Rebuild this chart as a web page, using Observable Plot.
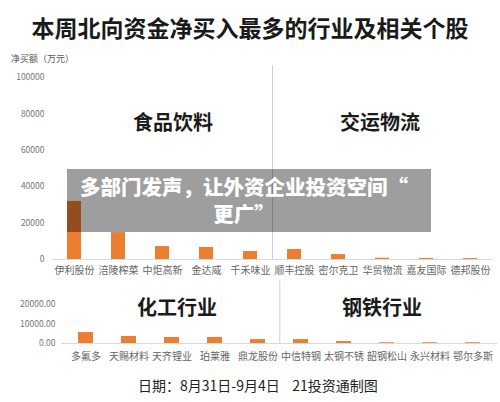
<!DOCTYPE html>
<html>
<head>
<meta charset="utf-8">
<script src="https://cdn.jsdelivr.net/npm/d3@7"></script>
<script src="https://cdn.jsdelivr.net/npm/@observablehq/plot@0.6"></script>
<style>
  html, body { margin: 0; padding: 0; background: #fff; }
  #root { position: relative; width: 500px; height: 402px; overflow: hidden; background: #fff;
          font-family: "Noto Sans CJK SC", "Noto Sans", sans-serif; }
  .abs { position: absolute; white-space: nowrap; }
  #title { left: 0; width: 500px; top: 10px; text-align: center; font-size: 23px; font-weight: 700; color: #1a1a1a; }
  #unit { left: 11px; top: 52px; font-size: 9px; color: #555; }
  .sub { font-size: 20px; font-weight: 700; color: #1a1a1a; transform: translate(-50%, -50%); }
  #footer { left: 138px; top: 375px; font-size: 14px; color: #222; }
  #banner { left: 67px; top: 169px; width: 364px; height: 63px; background: rgba(0,0,0,0.38);
            color: #fff; font-weight: 900; font-size: 20.5px; line-height: 27px; text-align: center;
            box-sizing: border-box; padding: 4px 10px 0 0; white-space: nowrap; }
  svg { position: absolute; left: 0; }
</style>
</head>
<body>
<div id="root"></div>
<script>
const titleText = "本周北向资金净买入最多的行业及相关个股";
const unitText = "净买额（万元）";
const topCategories = ["伊利股份","涪陵榨菜","中炬高新","金达威","千禾味业","顺丰控股","密尔克卫","华贸物流","嘉友国际","德邦股份"];
const topValues = [31900, 14800, 7100, 6600, 4400, 5500, 2700, 700, 600, 500];
const topTicks = [0, 20000, 40000, 60000, 80000, 100000];
const bottomCategories = ["多氟多","天赐材料","天齐锂业","珀莱雅","鼎龙股份","中信特钢","太钢不锈","韶钢松山","永兴材料","鄂尔多斯"];
const bottomValues = [5600, 3600, 3100, 3100, 2000, 2000, 1000, 400, 400, 400];
const bottomTicks = [0, 10000, 20000];
const sectorLabels = ["食品饮料", "交运物流", "化工行业", "钢铁行业"];
const footerText = "日期：8月31日-9月4日\u00a0\u00a0\u00a0\u00a021投资通制图";
const bannerLines = ["多部门发声，让外资企业投资空间“", "更广”"];

const barColor = "#ED7D31";
const font = "'Noto Sans CJK SC', 'Noto Sans', sans-serif";

const root = document.getElementById("root");
function addDiv(id, cls, text, left, top) {
  const d = document.createElement("div");
  if (id) d.id = id;
  d.className = "abs " + (cls || "");
  d.textContent = text;
  if (left != null) d.style.left = left + "px";
  if (top != null) d.style.top = top + "px";
  root.appendChild(d);
  return d;
}

addDiv("title", "", titleText);
addDiv("unit", "", unitText);

const topData = topCategories.map((c, i) => ({cat: c, value: topValues[i]}));
const bottomData = bottomCategories.map((c, i) => ({cat: c, value: bottomValues[i]}));

// Top chart
const topPlot = Plot.plot({
  width: 500, height: 220,
  marginTop: 17, marginBottom: 21, marginLeft: 52, marginRight: 7,
  style: {fontFamily: font, background: "transparent", overflow: "visible"},
  x: {domain: topCategories, paddingInner: 0.68, paddingOuter: 0.34, label: null},
  y: {domain: [0, 100000], label: null, ticks: topTicks},
  marks: [
    Plot.axisY({ticks: topTicks, tickSize: 0, tickPadding: 8, fontSize: 8.5, fill: "#777", tickFormat: d => String(d), label: null}),
    Plot.axisX({tickSize: 0, tickPadding: 7, fontSize: 10, fill: "#666", label: null}),
    Plot.barY(topData, {x: "cat", y: "value", fill: barColor}),
    Plot.ruleY([0], {stroke: "#d9d9d9", strokeWidth: 1}),
    Plot.ruleX(["千禾味业"], {y1: 0, y2: 106500, dx: 22, stroke: "#d0d0d0", strokeWidth: 1, clip: false})
  ]
});
topPlot.style.top = "60px";
root.appendChild(topPlot);

// Bottom chart
const bottomPlot = Plot.plot({
  width: 500, height: 100,
  marginTop: 24, marginBottom: 37, marginLeft: 61, marginRight: 3,
  style: {fontFamily: font, background: "transparent", overflow: "visible"},
  x: {domain: bottomCategories, paddingInner: 0.66, paddingOuter: 0.33, label: null},
  y: {domain: [0, 20000], label: null},
  marks: [
    Plot.axisY({ticks: bottomTicks, tickSize: 0, tickPadding: 6, fontSize: 8.5, fill: "#777", tickFormat: d => d.toFixed(2), label: null}),
    Plot.axisX({tickSize: 0, tickPadding: 9, fontSize: 10, fill: "#666", label: null}),
    Plot.barY(bottomData, {x: "cat", y: "value", fill: barColor}),
    Plot.ruleY([0], {stroke: "#d9d9d9", strokeWidth: 1}),
    Plot.ruleX(["鼎龙股份"], {y1: 0, y2: 32000, dx: 21.8, stroke: "#d0d0d0", strokeWidth: 1, clip: false})
  ]
});
bottomPlot.style.top = "280px";
root.appendChild(bottomPlot);

// Sector labels
addDiv(null, "sub", sectorLabels[0], 173, 121);
addDiv(null, "sub", sectorLabels[1], 380, 121);
addDiv(null, "sub", sectorLabels[2], 177, 306);
addDiv(null, "sub", sectorLabels[3], 382, 306);

addDiv("footer", "", footerText);
const banner = addDiv("banner", "", "");
bannerLines.forEach((line, i) => {
  if (i > 0) banner.appendChild(document.createElement("br"));
  banner.appendChild(document.createTextNode(line));
});
</script>
</body>
</html>
